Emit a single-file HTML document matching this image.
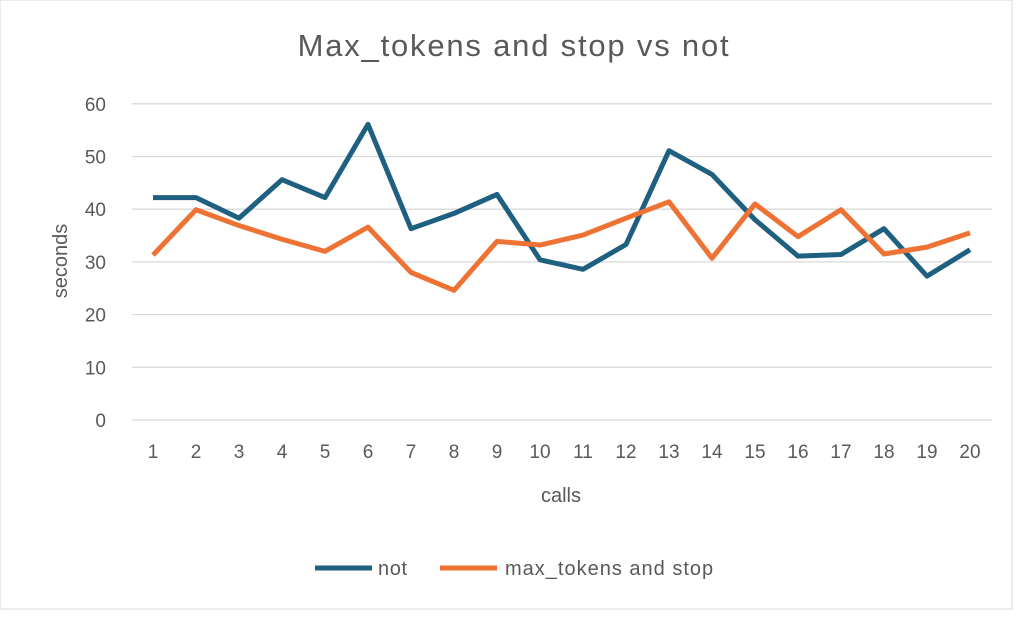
<!DOCTYPE html>
<html><head><meta charset="utf-8"><style>
body{margin:0;background:#fff;}
svg text{font-family:"Liberation Sans",sans-serif;fill:#595959;}
</style></head><body>
<svg width="1024" height="614">
<rect x="0" y="0" width="1012" height="609" fill="#fff" stroke="#d9d9d9"/>
<text x="514" y="56" font-size="31" letter-spacing="1.8" text-anchor="middle">Max_tokens and stop vs not</text>
<g id="grid"></g><g id="series"></g>
<text x="67" y="261" font-size="20" text-anchor="middle" transform="rotate(-90 67 261)">seconds</text>
<text x="561" y="502" font-size="20" text-anchor="middle">calls</text>
<g>
<line x1="315" y1="568" x2="372" y2="568" stroke="#1f5f7f" stroke-width="5"/>
<text x="378" y="575" font-size="20" letter-spacing="0.6">not</text>
<line x1="440" y1="568" x2="497" y2="568" stroke="#ed7234" stroke-width="5"/>
<text x="505" y="575" font-size="20" letter-spacing="1">max_tokens and stop</text>
</g>
</svg>
<script>
const categories=[1,2,3,4,5,6,7,8,9,10,11,12,13,14,15,16,17,18,19,20];
const notValues=[42.2,42.2,38.3,45.6,42.2,56.1,36.3,39.2,42.8,30.4,28.6,33.3,51.1,46.6,38,31.1,31.4,36.3,27.3,32.3];
const maxValues=[31.3,39.9,36.9,34.3,32,36.6,28,24.6,33.9,33.2,35.1,38.3,41.4,30.7,41,34.8,39.9,31.5,32.8,35.5];
const yTicks=[0,10,20,30,40,50,60];
const NS='http://www.w3.org/2000/svg';
function y(v){return 420-v*5.27;}
function x(i){return 153+i*(970-153)/19;}
const grid=document.getElementById('grid'),ser=document.getElementById('series');
yTicks.forEach(t=>{
 const l=document.createElementNS(NS,'line');
 l.setAttribute('x1',132);l.setAttribute('x2',992);l.setAttribute('y1',y(t));l.setAttribute('y2',y(t));
 l.setAttribute('stroke','#d9d9d9');l.setAttribute('stroke-width','1.3');
 
 
 grid.appendChild(l);
 const tx=document.createElementNS(NS,'text');
 tx.setAttribute('x',106);tx.setAttribute('y',y(t)+7);tx.setAttribute('font-size','19');tx.setAttribute('text-anchor','end');
 tx.textContent=t;
 
 
 grid.appendChild(tx);
});
categories.forEach((c,i)=>{
 const tx=document.createElementNS(NS,'text');
 tx.setAttribute('x',x(i));tx.setAttribute('y',458);tx.setAttribute('font-size','19');tx.setAttribute('text-anchor','middle');
 tx.textContent=c;
 
 
 grid.appendChild(tx);
});
function line(vals,color,name){
 const p=document.createElementNS(NS,'polyline');
 p.setAttribute('points',vals.map((v,i)=>x(i)+','+y(v)).join(' '));
 p.setAttribute('fill','none');p.setAttribute('stroke',color);p.setAttribute('stroke-width','5');p.setAttribute('stroke-linejoin','round');
 
 
 ser.appendChild(p);
}
line(notValues,'#1f5f7f','series-not');
line(maxValues,'#ed7234','series-max-tokens');
</script>
</body></html>
